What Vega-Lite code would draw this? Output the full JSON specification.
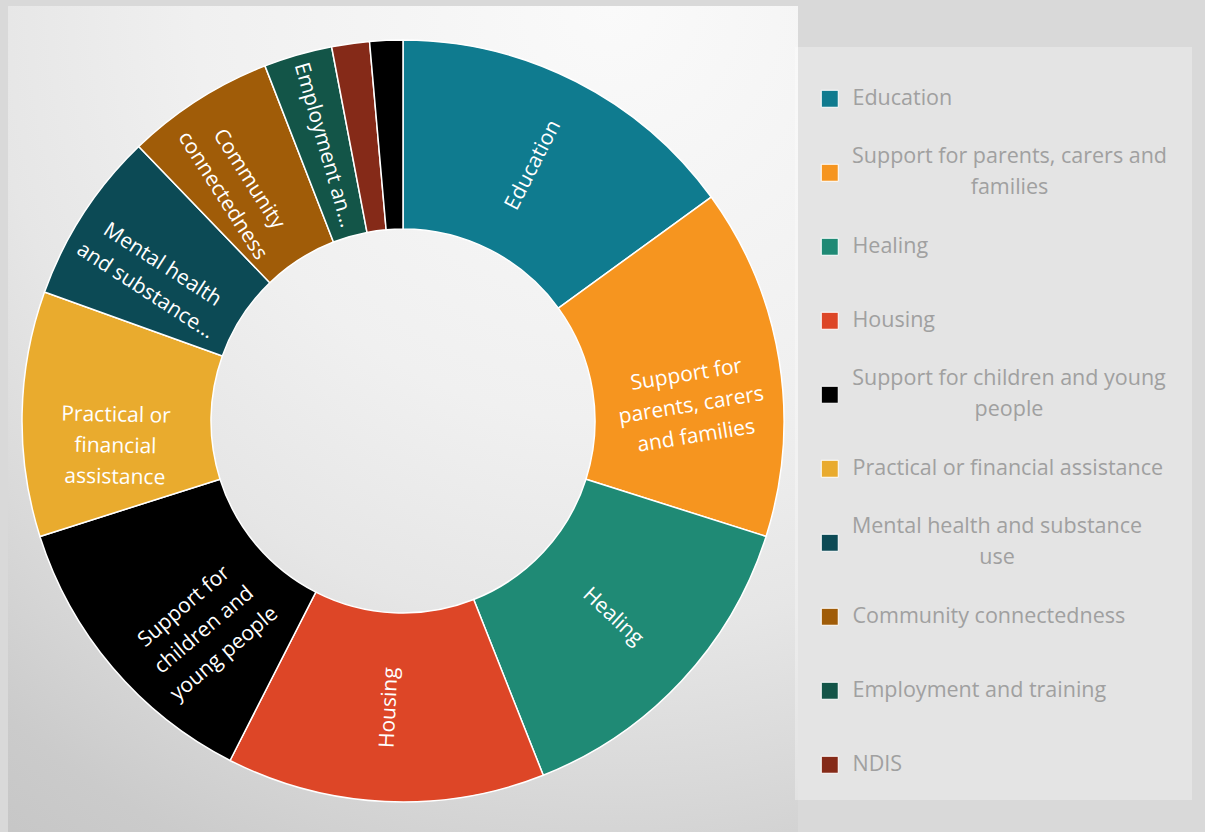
{
  "$schema": "https://vega.github.io/schema/vega-lite/v6.json",
  "width": 790,
  "height": 830,
  "autosize": {"type": "none"},
  "padding": {"left": 8, "top": 6, "right": 407, "bottom": 0},
  "background": "#d9d9d9",
  "config": {"view": {"stroke": null}, "font": "Open Sans"},
  "data": {
    "values": [
      {"n": 1, "category": "Education", "value": 15.0, "label": "Education"},
      {"n": 2, "category": "Support for parents, carers and families", "value": 14.9, "label": "Support for\nparents, carers\nand families"},
      {"n": 3, "category": "Healing", "value": 14.1, "label": "Healing"},
      {"n": 4, "category": "Housing", "value": 13.5, "label": "Housing"},
      {"n": 5, "category": "Support for children and young people", "value": 12.6, "label": "Support for\nchildren and\nyoung people"},
      {"n": 6, "category": "Practical or financial assistance", "value": 10.4, "label": "Practical or\nfinancial\nassistance"},
      {"n": 7, "category": "Mental health and substance use", "value": 7.3, "label": "Mental health\nand substance…"},
      {"n": 8, "category": "Community connectedness", "value": 6.3, "label": "Community\nconnectedness"},
      {"n": 9, "category": "Employment and training", "value": 2.9, "label": "Employment an…"},
      {"n": 10, "category": "NDIS", "value": 1.6, "label": ""},
      {"n": 11, "category": "Other", "value": 1.4, "label": ""}
    ]
  },
  "layer": [
    {
      "data": {"values": [{"bg": 1}]},
      "mark": {
        "type": "rect",
        "fill": {
          "gradient": "radial",
          "x1": 0.75, "y1": 0.0, "r1": 0,
          "x2": 0.75, "y2": 0.0, "r2": 1.25,
          "stops": [
            {"offset": 0, "color": "#fafafa"},
            {"offset": 0.4, "color": "#f0f0f0"},
            {"offset": 0.6, "color": "#e6e6e6"},
            {"offset": 0.75, "color": "#d9d9d9"},
            {"offset": 0.9, "color": "#cbcbcb"},
            {"offset": 1, "color": "#c6c6c6"}
          ]
        }
      },
      "encoding": {}
    },
    {
      "mark": {"type": "arc", "innerRadius": 192, "outerRadius": 381, "stroke": "white", "strokeWidth": 1.5},
      "encoding": {
        "theta": {"field": "value", "type": "quantitative", "stack": true},
        "order": {"field": "n", "type": "quantitative", "sort": "ascending"},
        "color": {
          "field": "category",
          "type": "nominal",
          "scale": {
            "domain": ["Education", "Support for parents, carers and families", "Healing", "Housing", "Support for children and young people", "Practical or financial assistance", "Mental health and substance use", "Community connectedness", "Employment and training", "NDIS", "Other"],
            "range": ["#0f7b8f", "#f6951f", "#1f8a75", "#dd4627", "#000000", "#e9ab2e", "#0c4a55", "#a05c08", "#135548", "#852a18", "#000000"]
          },
          "legend": {
            "values": ["Education", "Support for parents, carers and families", "Healing", "Housing", "Support for children and young people", "Practical or financial assistance", "Mental health and substance use", "Community connectedness", "Employment and training", "NDIS"],
            "orient": "none",
            "legendX": 787,
            "legendY": 41,
            "direction": "vertical",
            "title": " ",
            "titleFontSize": 13,
            "titlePadding": 4,
            "padding": 24,
            "fillColor": "rgba(255,255,255,0.3)",
            "symbolType": "square",
            "symbolSize": 289,
            "symbolStrokeColor": "white",
            "symbolStrokeWidth": 1,
            "labelFont": "Open Sans",
            "labelFontSize": 21.5,
            "labelColor": "#a0a0a0",
            "labelOffset": 12,
            "labelLimit": 400,
            "rowPadding": 21,
            "encode": {
              "labels": {
                "update": {
                  "lineHeight": {"signal": "indexof(['Support for parents, carers and families', 'Support for children and young people', 'Mental health and substance use'], datum.label) >= 0 ? 31 : 15.5"},
                  "dy": {"value": -15.5},
                  "align": {"signal": "indexof(['Support for parents, carers and families', 'Support for children and young people', 'Mental health and substance use'], datum.label) >= 0 ? 'center' : 'left'"},
                  "dx": {"signal": "datum.label == 'Support for parents, carers and families' ? 157 : datum.label == 'Support for children and young people' ? 156.5 : datum.label == 'Mental health and substance use' ? 144.5 : 0"}
                }
              }
            },
            "labelExpr": "datum.label == 'Support for parents, carers and families' ? ['Support for parents, carers and', 'families'] : datum.label == 'Support for children and young people' ? ['Support for children and young', 'people'] : datum.label == 'Mental health and substance use' ? ['Mental health and substance', 'use'] : datum.label == 'NDIS' ? ['', 'NDIS'] : ['', datum.label, '']"
          }
        }
      }
    },
    {
      "mark": {"type": "text", "radius": 287, "color": "white", "font": "Open Sans", "fontSize": 21, "lineBreak": "\n", "lineHeight": 31, "align": "center", "baseline": "middle"},
      "encoding": {
        "theta": {"field": "value", "type": "quantitative", "stack": true},
        "order": {"field": "n", "type": "quantitative", "sort": "ascending"},
        "detail": {"field": "category", "type": "nominal"},
        "text": {"field": "label", "type": "nominal"},
        "angle": {"value": {"expr": "scale('theta', (datum.value_start + datum.value_end) / 2) * 180 / PI - 90 - (scale('theta', (datum.value_start + datum.value_end) / 2) >= PI ? 180 : 0)"}}
      }
    }
  ]
}
